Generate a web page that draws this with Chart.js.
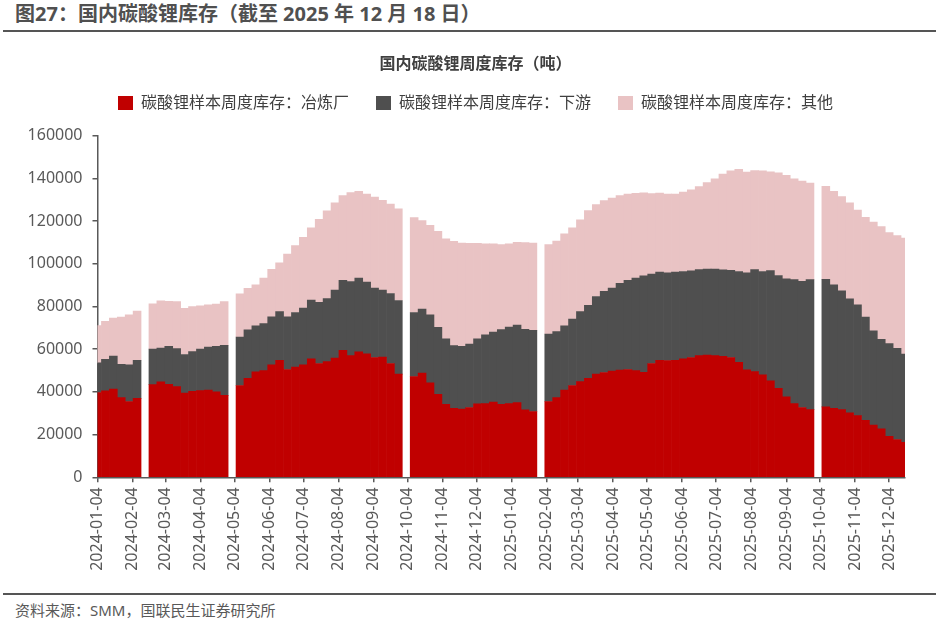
<!DOCTYPE html>
<html>
<head>
<meta charset="utf-8">
<script src="https://cdn.jsdelivr.net/npm/chart.js@4.4.0/dist/chart.umd.min.js"></script>
<style>
  body { margin: 0; background: #fff; }
  #page { position: relative; width: 939px; height: 626px; overflow: hidden; font-family: 'Noto Sans', 'Noto Sans CJK SC', sans-serif; }
  #head { position: absolute; left: 15px; top: 3px; font-size: 20px; line-height: 22px; font-weight: bold; color: #505050; }
  .rule { position: absolute; left: 3px; width: 933px; height: 2px; background: #555; }
  #foot { position: absolute; left: 15px; top: 600px; font-size: 15px; line-height: 20px; color: #595959; }
  #chart { position: absolute; left: 0; top: 35px; }
</style>
</head>
<body>
<div id="page">
  <div id="head">图27：国内碳酸锂库存（截至 2025 年 12 月 18 日）</div>
  <div class="rule" style="top:30px"></div>
  <canvas id="chart" width="939" height="555"></canvas>
  <div class="rule" style="top:593px"></div>
  <div id="foot">资料来源：SMM，国联民生证券研究所</div>
</div>
<script>
const chartTitle = '国内碳酸锂周度库存（吨）';
const seriesNames = ['碳酸锂样本周度库存：冶炼厂', '碳酸锂样本周度库存：下游', '碳酸锂样本周度库存：其他'];

// weekly dates (Thursdays), holiday weeks have no data
const dates = [
  '2024-01-04','2024-01-11','2024-01-18','2024-01-25','2024-02-01','2024-02-08','2024-02-15','2024-02-22','2024-02-29',
  '2024-03-07','2024-03-14','2024-03-21','2024-03-28','2024-04-04','2024-04-11','2024-04-18','2024-04-25',
  '2024-05-02','2024-05-09','2024-05-16','2024-05-23','2024-05-30','2024-06-06','2024-06-13','2024-06-20','2024-06-27',
  '2024-07-04','2024-07-11','2024-07-18','2024-07-25','2024-08-01','2024-08-08','2024-08-15','2024-08-22','2024-08-29',
  '2024-09-05','2024-09-12','2024-09-19','2024-09-26','2024-10-03','2024-10-10','2024-10-17','2024-10-24','2024-10-31',
  '2024-11-07','2024-11-14','2024-11-21','2024-11-28','2024-12-05','2024-12-12','2024-12-19','2024-12-26',
  '2025-01-02','2025-01-09','2025-01-16','2025-01-23','2025-01-30','2025-02-06','2025-02-13','2025-02-20','2025-02-27',
  '2025-03-06','2025-03-13','2025-03-20','2025-03-27','2025-04-03','2025-04-10','2025-04-17','2025-04-24',
  '2025-05-01','2025-05-08','2025-05-15','2025-05-22','2025-05-29','2025-06-05','2025-06-12','2025-06-19','2025-06-26',
  '2025-07-03','2025-07-10','2025-07-17','2025-07-24','2025-07-31','2025-08-07','2025-08-14','2025-08-21','2025-08-28',
  '2025-09-04','2025-09-11','2025-09-18','2025-09-25','2025-10-02','2025-10-09','2025-10-16','2025-10-23','2025-10-30',
  '2025-11-06','2025-11-13','2025-11-20','2025-11-27','2025-12-04','2025-12-11','2025-12-18'
];

const smelter = [
  39700, 40500, 41300, 37300, 35500, 37000, null, 43400, 44700, 43600, 42500, 39500, 40300, 40600, 40800, 40000, 38400,
  null, 43000, 46400, 49400, 50000, 52700, 54800, 50500, 51600, 52700, 55500, 53300, 54200, 55800, 59500, 57000, 58800,
  57800, 56100, 56300, 53300, 48300, null, 47200, 48800, 44200, 38900, 34200, 32300, 32000, 32700, 34400, 34500, 35200,
  34200, 34500, 35000, 31600, 30800, null, 35500, 37300, 40800, 43000, 44800, 46400, 48300, 49100, 49800, 50200, 50500,
  50000, 49200, 53300, 54800, 54700, 54800, 55500, 56100, 57000, 57200, 57000, 56700, 56100, 53900, 50300, 49500, 48000,
  45200, 41700, 37700, 34500, 32700, 31700, null, 33000, 32300, 31700, 30200, 28900, 26700, 24500, 22700, 19200, 17700, 16400
];

const downstream = [
  13900, 14700, 15500, 15600, 17200, 17800, null, 16600, 15800, 17700, 17800, 18000, 18600, 19400, 20200, 21300, 23400,
  null, 22700, 22700, 21600, 22000, 22500, 22800, 24700, 25600, 26600, 27500, 28600, 29500, 31900, 32800, 34700, 34500,
  33600, 32500, 31400, 32800, 34500, null, 30000, 30000, 31900, 31400, 30600, 29400, 29400, 29700, 30500, 32200, 32800,
  35000, 35900, 36300, 37700, 38000, null, 31600, 30900, 30200, 31100, 32800, 34100, 36400, 38000, 38800, 40600, 41700,
  43300, 45200, 41900, 41300, 41100, 41300, 40900, 40600, 40300, 40300, 40500, 40500, 40800, 42500, 45500, 47800, 48400,
  51600, 52800, 55300, 58100, 59100, 60900, null, 59700, 57800, 55600, 53400, 51900, 48400, 44100, 41900, 43400, 42700, 41300
];

const others = [
  17500, 17800, 17800, 22200, 23400, 23100, null, 21300, 22200, 21100, 22000, 21700, 21100, 20300, 19800, 19800, 20500,
  null, 20200, 19400, 19200, 21300, 22200, 22800, 29400, 31300, 33100, 33900, 38900, 41100, 40900, 39700, 41600, 40600,
  41300, 42700, 42000, 41900, 43000, null, 44500, 41400, 41900, 44900, 46900, 48800, 48300, 47200, 44700, 42700, 41300,
  39800, 38900, 38800, 40600, 40900, null, 41900, 42500, 43000, 42700, 43000, 44400, 43000, 42500, 42200, 41100, 40500,
  39700, 38800, 37700, 37000, 36900, 36600, 37200, 38000, 38900, 40600, 42300, 44800, 46700, 47800, 47200, 46400, 47200,
  46300, 48100, 48400, 47200, 46900, 45200, null, 43600, 43800, 44200, 44900, 44400, 46700, 50900, 52800, 52000, 52800, 54400
];

const tickLabels = [
  '2024-01-04','2024-02-04','2024-03-04','2024-04-04','2024-05-04','2024-06-04','2024-07-04','2024-08-04',
  '2024-09-04','2024-10-04','2024-11-04','2024-12-04','2025-01-04','2025-02-04','2025-03-04','2025-04-04',
  '2025-05-04','2025-06-04','2025-07-04','2025-08-04','2025-09-04','2025-10-04','2025-11-04','2025-12-04'
];

const fontFam = "'Noto Sans', 'Noto Sans CJK SC', sans-serif";
const axisColor = '#595959';

// days since first date, used as the x value
function dayOf(s) {
  const p = s.split('-').map(Number);
  const q = dates[0].split('-').map(Number);
  return (Date.UTC(p[0], p[1] - 1, p[2]) - Date.UTC(q[0], q[1] - 1, q[2])) / 86400000;
}

function toPoints(vals) {
  return dates.map((d, i) => ({ x: dayOf(d), y: vals[i] }));
}

const ctx = document.getElementById('chart').getContext('2d');
new Chart(ctx, {
  type: 'bar',
  data: {
    datasets: [
      { label: seriesNames[0], data: toPoints(smelter), backgroundColor: '#C00000' },
      { label: seriesNames[1], data: toPoints(downstream), backgroundColor: '#4F4F4F' },
      { label: seriesNames[2], data: toPoints(others), backgroundColor: '#E9C3C4' }
    ]
  },
  options: {
    responsive: false,
    animation: false,
    layout: { padding: { left: 12, right: 0, top: 0, bottom: 0 } },
    datasets: { bar: { barPercentage: 1, categoryPercentage: 1, borderWidth: 0 } },
    plugins: {
      tooltip: { enabled: false },
      title: {
        display: true,
        text: chartTitle,
        color: '#404040',
        font: { family: fontFam, size: 16, weight: 'bold' },
        padding: { top: 19.9, bottom: -6.1 }
      },
      legend: {
        position: 'top',
        labels: {
          boxWidth: 15,
          boxHeight: 14,
          padding: 27,
          color: '#404040',
          font: { family: fontFam, size: 16 }
        }
      }
    },
    scales: {
      x: {
        type: 'linear',
        stacked: true,
        min: 0,
        max: dayOf(dates[dates.length - 1]),
        offset: false,
        grid: { display: true, offset: false, drawOnChartArea: false, drawTicks: true, tickLength: 5, color: axisColor, lineWidth: 1.5 },
        border: { display: true, color: axisColor, width: 1.5 },
        afterBuildTicks: s => { s.ticks = tickLabels.map(t => ({ value: dayOf(t) })); },
        ticks: {
          autoSkip: false,
          minRotation: 90,
          maxRotation: 90,
          padding: 5,
          color: axisColor,
          font: { family: fontFam, size: 16 },
          callback: (v, i) => tickLabels[i]
        },
        afterFit: s => { s.height = 112.7; }
      },
      y: {
        stacked: true,
        min: 0,
        max: 160000,
        grid: { display: true, drawOnChartArea: false, drawTicks: true, tickLength: 5, color: axisColor, lineWidth: 1.5 },
        border: { display: true, color: axisColor, width: 1.5 },
        ticks: {
          stepSize: 20000,
          padding: 10,
          color: axisColor,
          font: { family: fontFam, size: 16 },
          callback: v => String(v)
        },
        afterFit: s => { s.width = 85.5; }
      },
      // empty spacer axes to place the plot area
      padTop: {
        type: 'linear',
        position: 'top',
        display: true,
        grid: { display: false },
        border: { display: false },
        ticks: { display: false },
        afterFit: s => { s.height = 14.7; }
      },
      padRight: {
        type: 'linear',
        position: 'right',
        display: true,
        grid: { display: false },
        border: { display: false },
        ticks: { display: false },
        afterFit: s => { s.width = 34; }
      }
    }
  }
});
</script>
</body>
</html>
